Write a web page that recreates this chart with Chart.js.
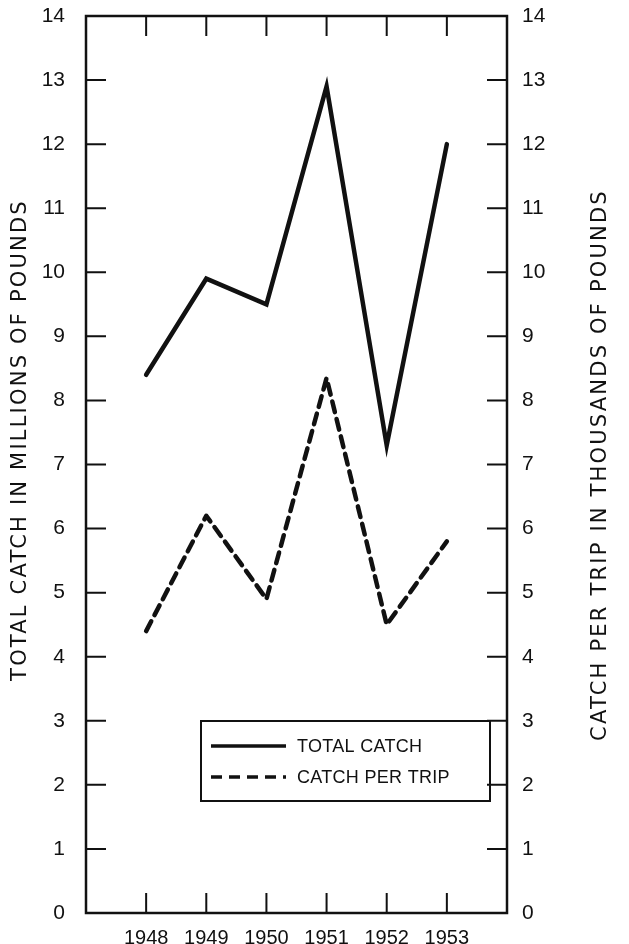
<!DOCTYPE html>
<html>
<head>
<meta charset="utf-8">
<script src="https://cdn.jsdelivr.net/npm/chart.js@4/dist/chart.umd.min.js"></script>
<style>
  html, body { margin: 0; padding: 0; background: #fff; }
  #wrap { width: 629px; height: 944px; position: relative; }
</style>
</head>
<body>
<div id="wrap"><canvas id="catch-chart"></canvas></div>
<script>
// Yearly catch, 1948–1953
const years        = [1948, 1949, 1950, 1951, 1952, 1953];
const totalCatch   = [8.4, 9.9, 9.5, 12.9, 7.3, 12.0];   // millions of pounds
const catchPerTrip = [4.4, 6.2, 4.9, 8.35, 4.5, 5.8];    // thousands of pounds
const yTickValues  = [0, 1, 2, 3, 4, 5, 6, 7, 8, 9, 10, 11, 12, 13, 14];

const leftTitle  = 'TOTAL CATCH IN MILLIONS OF POUNDS';
const rightTitle = 'CATCH PER TRIP IN THOUSANDS OF POUNDS';
const legendItems = ['TOTAL CATCH', 'CATCH PER TRIP'];

const INK   = '#111';
const TITLE = '"DejaVu Sans", sans-serif';
const FONT  = '"Liberation Sans", Arial, sans-serif';
const DASH  = [11, 7];

// Frame, inward tick marks, rotated axis titles and the boxed key
const framePlugin = {
  id: 'frame',
  afterDatasetsDraw(chart) {
    const { ctx, chartArea: a, scales } = chart;
    const x = scales.x, y = scales.y, y2 = scales.y2;
    const tick = 20;

    ctx.save();
    ctx.strokeStyle = INK;
    ctx.lineCap = 'butt';

    ctx.lineWidth = 2.5;
    ctx.strokeRect(a.left, a.top, a.right - a.left, a.bottom - a.top);

    ctx.lineWidth = 2;
    ctx.beginPath();
    for (const t of x.ticks) {
      const px = x.getPixelForValue(t.value);
      ctx.moveTo(px, a.bottom); ctx.lineTo(px, a.bottom - tick);
      ctx.moveTo(px, a.top);    ctx.lineTo(px, a.top + tick);
    }
    for (const t of y.ticks) {
      if (t.value <= y.min || t.value >= y.max) continue;
      const py = y.getPixelForValue(t.value);
      ctx.moveTo(a.left, py); ctx.lineTo(a.left + tick, py);
    }
    for (const t of y2.ticks) {
      if (t.value <= y2.min || t.value >= y2.max) continue;
      const py = y2.getPixelForValue(t.value);
      ctx.moveTo(a.right, py); ctx.lineTo(a.right - tick, py);
    }
    ctx.stroke();

    // axis titles, both read bottom to top
    ctx.fillStyle = INK;
    ctx.font = '21px ' + TITLE;
    ctx.letterSpacing = '2.2px';
    ctx.textAlign = 'center';
    ctx.textBaseline = 'middle';
    ctx.save();
    ctx.translate(21, 440);
    ctx.rotate(-Math.PI / 2);
    ctx.fillText(leftTitle, 0, 0);
    ctx.restore();
    ctx.save();
    ctx.translate(601, 465);
    ctx.rotate(-Math.PI / 2);
    ctx.fillText(rightTitle, 0, 0);
    ctx.restore();

    // key box
    const bx = 201, by = 721, bw = 289, bh = 80;
    ctx.lineWidth = 2;
    ctx.strokeRect(bx, by, bw, bh);
    ctx.font = '18px ' + FONT;
    ctx.letterSpacing = '0.3px';
    ctx.textAlign = 'left';
    chart.data.datasets.forEach((ds, i) => {
      const ly = by + 25 + i * 31;
      ctx.beginPath();
      ctx.lineWidth = 3.5;
      ctx.setLineDash(ds.borderDash || []);
      ctx.moveTo(bx + 10, ly); ctx.lineTo(bx + 85, ly);
      ctx.stroke();
      ctx.setLineDash([]);
      ctx.fillText(legendItems[i], bx + 96, ly + 1);
    });
    ctx.restore();
  }
};

const tickFont = { family: FONT, size: 21 };

// fixed box sizes so the plot area lands where the frame should be
const fitY = (w) => (s) => { s.width = w; s.paddingTop = 0; s.paddingBottom = 0; };

new Chart(document.getElementById('catch-chart'), {
  type: 'line',
  data: {
    datasets: [
      {
        label: legendItems[0],
        data: years.map((yr, i) => ({ x: yr, y: totalCatch[i] })),
        yAxisID: 'y',
        borderColor: INK,
        borderWidth: 4.5,
        borderJoinStyle: 'miter',
        borderCapStyle: 'round',
        pointRadius: 0,
        tension: 0,
      },
      {
        label: legendItems[1],
        data: years.map((yr, i) => ({ x: yr, y: catchPerTrip[i] })),
        yAxisID: 'y2',
        borderColor: INK,
        borderWidth: 4.5,
        borderDash: DASH,
        borderCapStyle: 'round',
        borderJoinStyle: 'round',
        pointRadius: 0,
        tension: 0,
      },
    ],
  },
  options: {
    responsive: true,
    maintainAspectRatio: false,
    animation: false,
    devicePixelRatio: 1,
    layout: { padding: { top: 16, left: 0, right: 0, bottom: 0 } },
    plugins: {
      legend:  { display: false },
      tooltip: { enabled: false },
    },
    scales: {
      x: {
        type: 'linear',
        min: 1947,
        max: 1954,
        afterBuildTicks: (s) => { s.ticks = years.map((v) => ({ value: v })); },
        afterFit: (s) => { s.height = 31; s.paddingLeft = 0; s.paddingRight = 0; },
        grid:   { display: false },
        border: { display: false },
        ticks:  {
          color: INK,
          font: { family: FONT, size: 20 },
          padding: 5,
          maxRotation: 0,
          callback: (v) => String(v),
        },
      },
      y: {
        position: 'left',
        min: 0,
        max: 14,
        afterBuildTicks: (s) => { s.ticks = yTickValues.map((v) => ({ value: v })); },
        afterFit: fitY(86),
        grid:   { display: false },
        border: { display: false },
        ticks:  { color: INK, font: tickFont, padding: 13 },
      },
      y2: {
        position: 'right',
        min: 0,
        max: 14,
        afterBuildTicks: (s) => { s.ticks = yTickValues.map((v) => ({ value: v })); },
        afterFit: fitY(122),
        grid:   { display: false },
        border: { display: false },
        ticks:  { color: INK, font: tickFont, padding: 7 },
      },
    },
  },
  plugins: [framePlugin],
});
</script>
</body>
</html>
